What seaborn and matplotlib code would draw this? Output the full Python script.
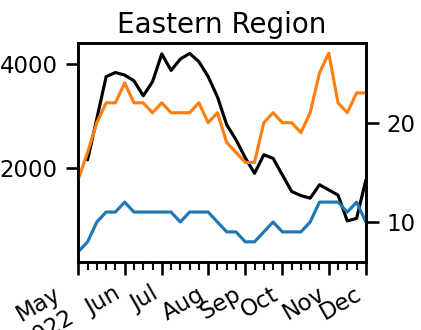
import numpy as np
import pandas as pd
import matplotlib
matplotlib.use("Agg")
import matplotlib.pyplot as plt
import seaborn as sns

weeks = pd.date_range("2022-05-01", periods=32, freq="W-SUN")
black_count = [np.nan, 2150, 2950, 3760, 3840, 3790, 3680, 3390, 3660, 4200, 3880, 4100, 4210, 4050, 3760, 3370,
               2830, 2540, 2190, 1890, 2250, 2180, 1860, 1540, 1460, 1410, 1670, 1570, 1470, 970, 1020, 1760]
orange_vals = [14.3, 17, 20, 22, 22, 24, 22, 22, 21, 22, 21, 21, 21, 22, 20, 21,
               18, 17, 16, 16, 20, 21, 20, 20, 19, 21, 25, 27, 22, 21, 23, 23]
blue_vals = [7, 8, 10, 11, 11, 12, 11, 11, 11, 11, 11, 10, 11, 11, 11, 10,
             9, 9, 8, 8, 9, 10, 9, 9, 9, 10, 12, 12, 12, 11, 12, 10]
month_labels = ["May\n2022", "Jun", "Jul", "Aug", "Sep", "Oct", "Nov", "Dec"]
title = "Eastern Region"

sns.set_theme(style="ticks", context="talk")
plt.rcParams.update({
  "axes.edgecolor": "black", "xtick.color": "black", "ytick.color": "black",
  "text.color": "black", "axes.labelcolor": "black",
  "xtick.major.pad": 6, "ytick.major.pad": 6,
})

fig, ax = plt.subplots(figsize=(4.21, 3.3), dpi=100)
fig.subplots_adjust(left=0.186, right=0.869, top=0.869, bottom=0.207)

# counts on the left axis, the two rates share the right one
sns.lineplot(x=weeks, y=black_count, ax=ax, color="black")
ax.set_ylim(182, 4406)

ax2 = ax.twinx()
sns.lineplot(x=weeks, y=blue_vals, ax=ax2, color="tab:blue")
sns.lineplot(x=weeks, y=orange_vals, ax=ax2, color="tab:orange")

# month ticks sit on the week that holds the 1st, minor tick on every week
month_starts = pd.date_range("2022-05-01", "2022-12-01", freq="MS")
month_ticks = [weeks[weeks >= m][0] for m in month_starts]
ax.set_xticks(month_ticks)
ax.set_xticklabels(month_labels, rotation=30, ha="right")
ax.set_xticks(weeks, minor=True)
ax.set_xlim(weeks[0], weeks[-1])

for a in (ax, ax2):
  a.set_xlabel("")
  a.set_ylabel("")
ax.set_title(title, fontsize=20, pad=7.5)

fig.savefig("out.png", dpi=100)
